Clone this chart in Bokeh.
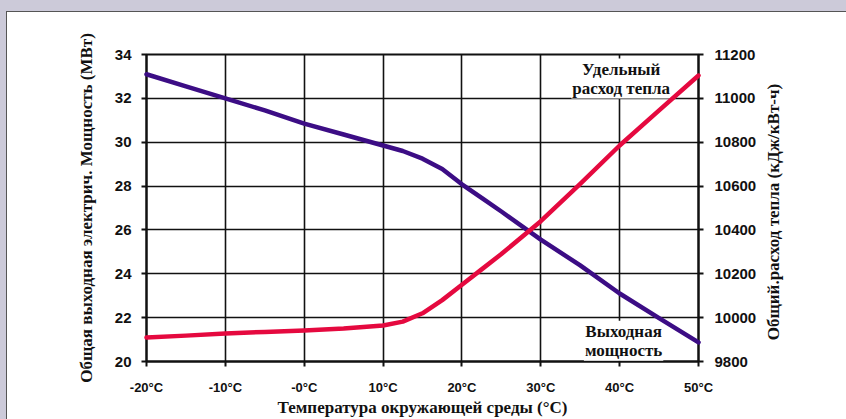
from math import pi
from bokeh.plotting import figure
from bokeh.models import Range1d, LinearAxis, FixedTicker, Label
from bokeh.embed import file_html
from bokeh.resources import INLINE

# ---- data ----
temps = [-20, -15, -10, -5, 0, 5, 10, 12.5, 15, 17.5, 20, 22.5, 25, 30, 35, 40, 45, 50]
power_mw = [33.1, 32.55, 32.0, 31.45, 30.85, 30.35, 29.85, 29.6, 29.25, 28.78, 28.08,
            27.46, 26.84, 25.56, 24.38, 23.1, 21.98, 20.87]
heat_rate = [9909, 9918, 9928, 9935, 9941, 9950, 9964, 9982, 10020, 10080, 10150,
             10220, 10290, 10440, 10610, 10785, 10945, 11104]

x_ticks = [-20, -10, 0, 10, 20, 30, 40, 50]
x_tick_labels = ["-20°C", "-10°C", "-0°C", "10°C", "20°C", "30°C", "40°C", "50°C"]
left_ticks = [20, 22, 24, 26, 28, 30, 32, 34]
right_ticks = [9800, 10000, 10200, 10400, 10600, 10800, 11000, 11200]

x_title = "Температура окружающей среды (°C)"
left_title = "Общая выходная электрич. Мощность (МВт)"
right_title = "Общий.расход тепла (кДж/кВт-ч)"
heat_label = "Удельный\nрасход тепла"
power_label = "Выходная\nмощность"

PURPLE = "#3c0d85"
RED = "#e5093f"
SANS = "Liberation Sans"
SERIF = "Liberation Serif"

p = figure(width=839, height=407, output_backend="svg", toolbar_location=None,
           x_range=Range1d(-20, 50), y_range=Range1d(20, 34),
           min_border_left=139, min_border_right=148, min_border_top=42,
           min_border_bottom=58, background_fill_color="white",
           border_fill_color="white")
p.styles = {"position": "relative", "top": "12px", "left": "7px",
            "box-shadow": "0 0 0 1px #555555, 0 0 0 14px #cccad9"}

p.extra_y_ranges = {"heat": Range1d(9800, 11200)}
rax = LinearAxis(y_range_name="heat")
p.add_layout(rax, "right")

p.xaxis.ticker = FixedTicker(ticks=x_ticks)
p.xaxis.major_label_overrides = {t: l for t, l in zip(x_ticks, x_tick_labels)}
p.yaxis[0].ticker = FixedTicker(ticks=left_ticks)
rax.ticker = FixedTicker(ticks=right_ticks)

p.xgrid.ticker = FixedTicker(ticks=x_ticks)
p.ygrid.ticker = FixedTicker(ticks=left_ticks)
for g in (p.xgrid[0], p.ygrid[0]):
    g.grid_line_color = "#111111"
    g.grid_line_width = 1.6
    g.grid_line_alpha = 1.0

p.outline_line_color = "#111111"
p.outline_line_width = 2

for ax in p.axis:
    ax.axis_line_color = "#111111"
    ax.axis_line_width = 2
    ax.major_tick_line_color = "#111111"
    ax.major_tick_line_width = 2
    ax.major_tick_in = 0
    ax.major_tick_out = 5
    ax.minor_tick_line_color = None
    ax.major_label_text_font = SANS
    ax.major_label_text_font_style = "bold"
    ax.major_label_text_font_size = "15px"
    ax.major_label_text_color = "#111111"
    ax.axis_label_text_font = SERIF
    ax.axis_label_text_font_style = "bold"
    ax.axis_label_text_font_size = "17px"
    ax.axis_label_text_color = "#111111"

p.xaxis.major_label_text_font_size = "13px"
p.xaxis.major_label_standoff = 13
p.xaxis.axis_label = x_title
p.xaxis.axis_label_standoff = 0

p.yaxis[0].major_label_standoff = 10
p.yaxis[0].axis_label = left_title
p.yaxis[0].axis_label_standoff = 16

rax.major_label_standoff = 11
rax.axis_label_standoff = 14
rax.axis_label_orientation = pi / 2   # read bottom-to-top like the reference
if "axis_label_align" in rax.properties():
    # anchor the start of the rotated title near the bottom of the axis
    rax.axis_label_align = "start"
    rax.axis_label = "\u00a0" * 5 + right_title
else:
    rax.axis_label = right_title

for txt, lx, ly in ((heat_label, 40.2, 32.9), (power_label, 40.5, 20.95)):
    p.add_layout(Label(x=lx, y=ly, text=txt, text_align="center", text_baseline="middle",
                       text_font=SERIF, text_font_style="bold", text_font_size="17px",
                       text_line_height=1.0, text_color="#111111",
                       background_fill_color="white", padding=1))

p.line(temps, power_mw, line_color=PURPLE, line_width=4.5, line_join="round",
       line_cap="round", level="overlay")
p.line(temps, heat_rate, y_range_name="heat", line_color=RED, line_width=4.5,
       line_join="round", line_cap="round", level="overlay")

open("out.html", "w").write(file_html(p, INLINE))
